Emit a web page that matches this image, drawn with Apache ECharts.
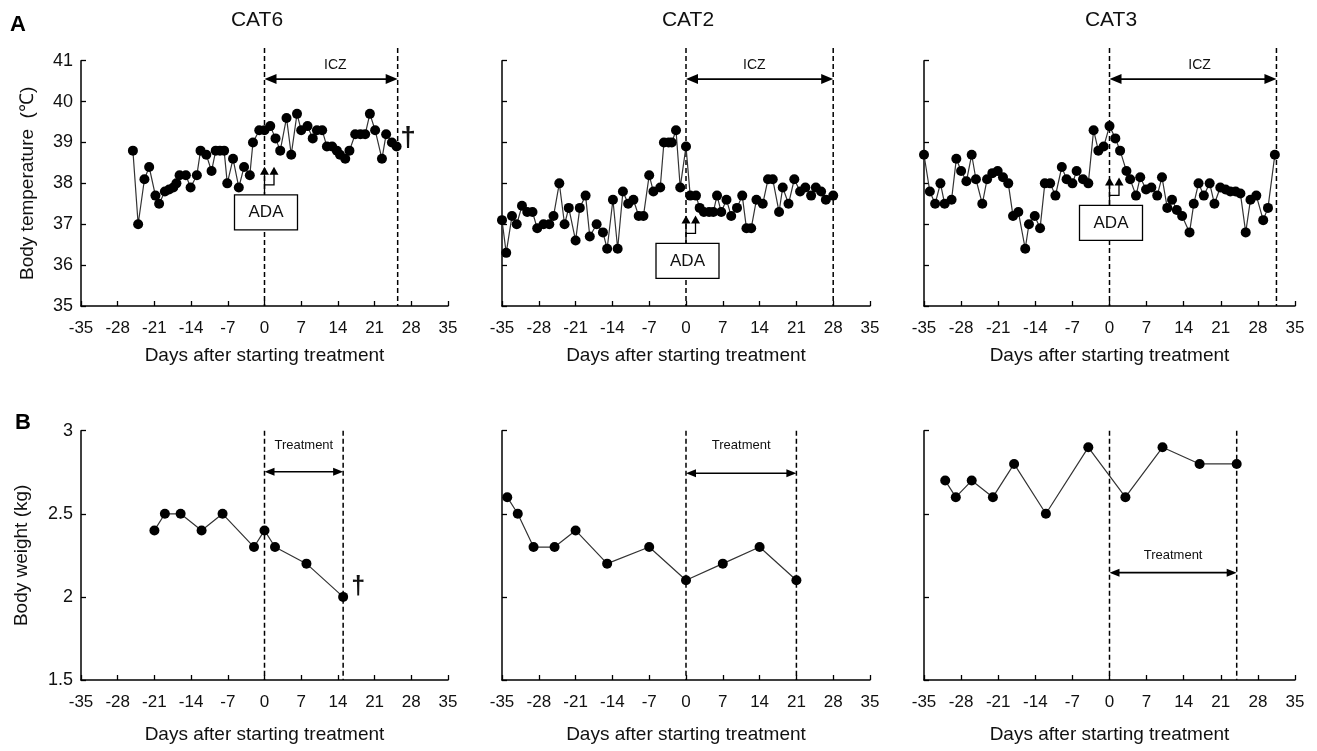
<!DOCTYPE html>
<html><head><meta charset="utf-8">
<script src="https://cdn.jsdelivr.net/npm/echarts@6/dist/echarts.min.js"></script>
<style>html,body{margin:0;padding:0;background:#fff}#c{width:1317px;height:751px}</style>
</head><body><div id="c"></div>
<script>
// ---------------- data ----------------
const catNames = ['CAT6', 'CAT2', 'CAT3'];
const dayMin = -35, dayMax = 35, dayStep = 7;

// Body temperature (°C) : [day, value]
const cat6Temp = [[-25.1,38.8],[-24.1,37.0],[-22.9,38.1],[-22.0,38.4],[-20.8,37.7],[-20.1,37.5],[-19.0,37.8],[-18.2,37.85],[-17.4,37.9],[-16.8,38.0],[-16.2,38.2],[-15.0,38.2],[-14.1,37.9],[-12.9,38.2],[-12.2,38.8],[-11.1,38.7],[-10.1,38.3],[-9.3,38.8],[-8.5,38.8],[-7.7,38.8],[-7.1,38.0],[-6.0,38.6],[-4.9,37.9],[-3.9,38.4],[-2.8,38.2],[-2.2,39.0],[-1.0,39.3],[0,39.3],[1.1,39.4],[2.1,39.1],[3.0,38.8],[4.2,39.6],[5.1,38.7],[6.2,39.7],[7.0,39.3],[8.2,39.4],[9.2,39.1],[10.0,39.3],[11.0,39.3],[11.9,38.9],[12.9,38.9],[13.8,38.8],[14.4,38.7],[15.4,38.6],[16.2,38.8],[17.3,39.2],[18.3,39.2],[19.2,39.2],[20.1,39.7],[21.1,39.3],[22.4,38.6],[23.2,39.2],[24.3,39.0],[25.2,38.9]];
const cat2Temp = [[-35,37.1],[-34.2,36.3],[-33.1,37.2],[-32.2,37.0],[-31.2,37.45],[-30.2,37.3],[-29.2,37.3],[-28.3,36.9],[-27.1,37.0],[-26.0,37.0],[-25.2,37.2],[-24.1,38.0],[-23.1,37.0],[-22.3,37.4],[-21.0,36.6],[-20.2,37.4],[-19.1,37.7],[-18.3,36.7],[-17.0,37.0],[-15.8,36.8],[-15.0,36.4],[-13.9,37.6],[-13.0,36.4],[-12.0,37.8],[-11.0,37.5],[-10.0,37.6],[-9.0,37.2],[-8.1,37.2],[-7.0,38.2],[-6.2,37.8],[-4.9,37.9],[-4.2,39.0],[-3.3,39.0],[-2.7,39.0],[-1.9,39.3],[-1.1,37.9],[0,38.9],[0.8,37.7],[1.9,37.7],[2.6,37.4],[3.4,37.3],[4.4,37.3],[5.2,37.3],[5.9,37.7],[6.7,37.3],[7.7,37.6],[8.6,37.2],[9.7,37.4],[10.7,37.7],[11.5,36.9],[12.4,36.9],[13.4,37.6],[14.6,37.5],[15.6,38.1],[16.5,38.1],[17.7,37.3],[18.4,37.9],[19.5,37.5],[20.6,38.1],[21.7,37.8],[22.7,37.9],[23.8,37.7],[24.7,37.9],[25.7,37.8],[26.6,37.6],[28.0,37.7]];
const cat3Temp = [[-35,38.7],[-33.9,37.8],[-32.9,37.5],[-31.9,38.0],[-31.1,37.5],[-29.8,37.6],[-28.9,38.6],[-28.0,38.3],[-27.0,38.05],[-26.0,38.7],[-25.2,38.1],[-24.0,37.5],[-23.1,38.1],[-22.1,38.25],[-21.1,38.3],[-20.1,38.15],[-19.1,38.0],[-18.2,37.2],[-17.2,37.3],[-15.9,36.4],[-15.2,37.0],[-14.1,37.2],[-13.1,36.9],[-12.2,38.0],[-11.2,38.0],[-10.2,37.7],[-9.0,38.4],[-8.1,38.1],[-7.0,38.0],[-6.2,38.3],[-5.0,38.1],[-4.0,38.0],[-3.0,39.3],[-2.1,38.8],[-1.1,38.9],[0,39.4],[1.1,39.1],[2.0,38.8],[3.2,38.3],[3.9,38.1],[5.0,37.7],[5.8,38.15],[6.9,37.85],[7.9,37.9],[9.0,37.7],[9.9,38.15],[10.9,37.4],[11.8,37.6],[12.7,37.35],[13.7,37.2],[15.1,36.8],[15.9,37.5],[16.8,38.0],[17.8,37.7],[18.9,38.0],[19.8,37.5],[20.9,37.9],[21.9,37.85],[22.8,37.8],[23.8,37.8],[24.7,37.75],[25.7,36.8],[26.6,37.6],[27.7,37.7],[29.0,37.1],[29.9,37.4],[31.2,38.7]];

// Body weight (kg) : [day, value]
const cat6Weight = [[-21,2.4],[-19,2.5],[-16,2.5],[-12,2.4],[-8,2.5],[-2,2.3],[0,2.4],[2,2.3],[8,2.2],[15,2.0]];
const cat2Weight = [[-34,2.6],[-32,2.5],[-29,2.3],[-25,2.3],[-21,2.4],[-15,2.2],[-7,2.3],[0,2.1],[7,2.2],[14,2.3],[21,2.1]];
const cat3Weight = [[-31,2.7],[-29,2.6],[-26,2.7],[-22,2.6],[-18,2.8],[-12,2.5],[-4,2.9],[3,2.6],[10,2.9],[17,2.8],[24,2.8]];

// treatment periods (days)
const iczEnd = [25.4, 28, 31.5];
const treatEnd = [15, 21, 24];

// ---------------- annotation placement ----------------
const tempDashTop = 41.31, iczArrowY = 40.55, iczTextY = 40.9;
const iczTextDay = [13.5, 13, 17];
const adaBoxTop = [37.72, 36.53, 37.46];
const treatArrowY = [2.753, 2.744, 2.146];
const treatTextY = [2.914, 2.914, 2.252];
const daggerTemp = [27.4, 39.11];
const daggerWeight = [17.85, 2.06];

const FONT = '"Liberation Sans", Arial, Helvetica, sans-serif';
const TXT = '#111';
const colLeft = [81, 502, 924];
const colWidth = [367, 368, 371];
const rows = [{top: 60.7, height: 245.3}, {top: 430.7, height: 249.3}];

const chart = echarts.init(document.getElementById('c'));

const grids = [], xAxes = [], yAxes = [], series = [];
for (let r = 0; r < 2; r++) {
  for (let k = 0; k < 3; k++) {
    const i = r * 3 + k;
    grids.push({left: colLeft[k], width: colWidth[k], top: rows[r].top, height: rows[r].height, outerBoundsMode: 'none', containLabel: false});
    xAxes.push({
      gridIndex: i, type: 'value', min: dayMin, max: dayMax, interval: dayStep,
      axisLine: {show: true, onZero: false, lineStyle: {color: '#000', width: 1.5}},
      axisTick: {show: true, inside: true, length: 5, lineStyle: {color: '#000', width: 1.3}},
      axisLabel: {color: TXT, fontSize: 17, fontFamily: FONT, margin: 14, showMinLabel: true, showMaxLabel: true},
      splitLine: {show: false},
      name: 'Days after starting treatment', nameLocation: 'middle', nameGap: r === 0 ? 40 : 45,
      nameTextStyle: {color: TXT, fontSize: 19, fontFamily: FONT}
    });
    yAxes.push({
      gridIndex: i, type: 'value',
      min: r === 0 ? 35 : 1.5, max: r === 0 ? 41 : 3, interval: r === 0 ? 1 : 0.5,
      axisLine: {show: true, onZero: false, lineStyle: {color: '#000', width: 1.5}},
      axisTick: {show: true, inside: true, length: 5, lineStyle: {color: '#000', width: 1.3}},
      axisLabel: {show: k === 0, color: TXT, fontSize: 18, fontFamily: FONT, margin: 8},
      splitLine: {show: false},
      name: k === 0 ? (r === 0 ? 'Body temperature  (\u2103)' : 'Body weight (kg)') : '',
      nameLocation: 'middle', nameGap: r === 0 ? 44 : 50,
      nameTextStyle: {color: TXT, fontSize: 19, fontFamily: FONT}
    });
  }
}

const dataSets = [cat6Temp, cat2Temp, cat3Temp, cat6Weight, cat2Weight, cat3Weight];
dataSets.forEach((d, i) => {
  series.push({
    type: 'line', xAxisIndex: i, yAxisIndex: i, data: d,
    symbol: 'circle', symbolSize: 10, showAllSymbol: true,
    itemStyle: {color: '#000'}, lineStyle: {color: '#333', width: 1.2},
    z: 3, animation: false, silent: true
  });
});

// helpers for annotation elements
function dashed(x1, y1, x2, y2) {
  return {type: 'line', shape: {x1, y1, x2, y2}, style: {stroke: '#000', lineWidth: 1.5, lineDash: [5, 3]}};
}
function seg(pts, w) {
  return {type: 'polyline', shape: {points: pts}, style: {stroke: '#000', lineWidth: w || 1.3, fill: null}};
}
function txt(s, x, y, size, weight) {
  return {type: 'text', style: {text: s, x, y, fill: TXT, font: (weight ? weight + ' ' : '') + size + 'px ' + FONT, textAlign: 'center', textVerticalAlign: 'middle', align: 'center', verticalAlign: 'middle'}};
}
function hArrow(x1, x2, y, hl, hw) {
  return [
    seg([[x1 + hl - 1, y], [x2 - hl + 1, y]], 1.6),
    {type: 'polygon', shape: {points: [[x1, y], [x1 + hl, y - hw / 2], [x1 + hl, y + hw / 2]]}, style: {fill: '#000'}},
    {type: 'polygon', shape: {points: [[x2, y], [x2 - hl, y - hw / 2], [x2 - hl, y + hw / 2]]}, style: {fill: '#000'}}
  ];
}
function upHead(x, yTop, hl, hw) {
  return {type: 'polygon', shape: {points: [[x, yTop], [x - hw / 2, yTop + hl], [x + hw / 2, yTop + hl]]}, style: {fill: '#000'}};
}

for (let k = 0; k < 3; k++) {
  series.push({
    type: 'custom', xAxisIndex: k, yAxisIndex: k, data: [[0, 38]], z: 1, silent: true, animation: false, clip: false,
    renderItem: function (params, api) {
      const x0 = api.coord([0, 35])[0];
      const yBot = api.coord([0, 35])[1];
      const yTop = api.coord([0, tempDashTop])[1];
      const xE = api.coord([iczEnd[k], 35])[0];
      const ya = api.coord([0, iczArrowY])[1];
      const tp = api.coord([iczTextDay[k], iczTextY]);
      const bt = api.coord([0, adaBoxTop[k]])[1];
      const els = [];
      els.push(dashed(x0, yTop, x0, yBot));
      els.push(dashed(xE, yTop, xE, yBot));
      els.push(...hArrow(x0, xE, ya, 12, 10));
      els.push(txt('ICZ', tp[0], tp[1], 14));
      els.push({type: 'rect', shape: {x: x0 + 1.5 - 31.5, y: bt, width: 63, height: 35}, style: {fill: '#fff', stroke: '#000', lineWidth: 1.3}});
      els.push(txt('ADA', x0 + 1.5, bt + 18, 17));
      const x2 = x0 + 9.5;
      els.push(seg([[x0, bt], [x0, bt - 21]]));
      els.push(seg([[x0, bt - 10], [x2, bt - 10], [x2, bt - 21]]));
      els.push(upHead(x0, bt - 28, 8, 9));
      els.push(upHead(x2, bt - 28, 8, 9));
      if (k === 0) {
        const dp = api.coord(daggerTemp);
        els.push(txt('\u2020', dp[0], dp[1], 28, 'bold'));
      }
      return {type: 'group', children: els};
    }
  });
  series.push({
    type: 'custom', xAxisIndex: k + 3, yAxisIndex: k + 3, data: [[0, 2]], z: 1, silent: true, animation: false, clip: false,
    renderItem: function (params, api) {
      const x0 = api.coord([0, 1.5])[0];
      const yBot = api.coord([0, 1.5])[1];
      const yTop = api.coord([0, 3])[1];
      const xE = api.coord([treatEnd[k], 1.5])[0];
      const ya = api.coord([0, treatArrowY[k]])[1];
      const tp = api.coord([treatEnd[k] / 2, treatTextY[k]]);
      const els = [];
      els.push(dashed(x0, yTop, x0, yBot));
      els.push(dashed(xE, yTop, xE, yBot));
      els.push(...hArrow(x0, xE, ya, 10, 8));
      els.push(txt('Treatment', tp[0], tp[1], 13));
      if (k === 0) {
        const dp = api.coord(daggerWeight);
        els.push(txt('\u2020', dp[0], dp[1], 25, 'bold'));
      }
      return {type: 'group', children: els};
    }
  });
}

const titleX = [257, 688, 1111];
const graphic = [
  {type: 'text', x: 18, y: 25, style: {text: 'A', font: 'bold 22px ' + FONT, fill: '#000', textAlign: 'center', textVerticalAlign: 'middle'}},
  {type: 'text', x: 23, y: 423, style: {text: 'B', font: 'bold 22px ' + FONT, fill: '#000', textAlign: 'center', textVerticalAlign: 'middle'}}
];
catNames.forEach((n, k) => graphic.push({type: 'text', x: titleX[k], y: 20, style: {text: n, font: '21px ' + FONT, fill: TXT, textAlign: 'center', textVerticalAlign: 'middle'}}));

chart.setOption({
  animation: false,
  backgroundColor: '#fff',
  grid: grids, xAxis: xAxes, yAxis: yAxes, series: series, graphic: graphic
});
</script>
</body></html>
